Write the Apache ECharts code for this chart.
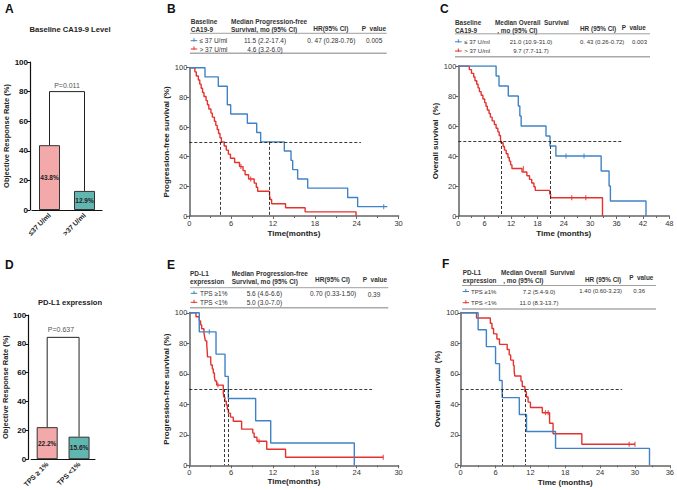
<!DOCTYPE html>
<html><head><meta charset="utf-8">
<script src="https://cdn.jsdelivr.net/npm/echarts@6/dist/echarts.min.js"></script>
<style>html,body{margin:0;padding:0;background:#fff}#c{width:677px;height:490px}</style>
</head><body><div id="c"></div>
<script>
const FONT = '"Liberation Sans", Arial, Helvetica, sans-serif';
const BLUE = '#3f83c6', RED = '#e4332f';

// ---- Panel A: ORR by baseline CA19-9
const catsA = ['≤37 U/ml', '>37 U/ml'];
const orrA = [43.8, 12.9];
const bracketA = 80;
const pTextA = 'P=0.011';
const titleA = 'Baseline CA19-9 Level';
// ---- Panel D: ORR by PD-L1
const catsD = ['TPS ≥ 1%', 'TPS <1%'];
const orrD = [22.2, 15.6];
const bracketD = 84.5;
const pTextD = 'P=0.637';
const titleD = 'PD-L1 expression';
const barColors = ['#f3a8aa', '#62b6b0'];

// ---- Panel B: PFS by CA19-9
const pfsCaLow = [[0,100],[2.25,93.8],[4.16,87.5],[5.45,75.0],[5.93,68.8],[8.32,62.5],[9.66,56.3],[10.23,50.0],[13.62,43.8],[14.58,37.5],[14.82,31.3],[15.53,25.0],[16.97,18.8],[22.7,12.5],[24.13,6.3],[28.38,6.3]];
const pfsCaLowCens = [[27.86,6.3]];
const pfsCaHigh = [[0,100],[0.8,97.2],[1.0,94.4],[1.3,91.7],[1.5,88.9],[1.7,86.1],[1.9,83.3],[2.1,80.6],[2.4,77.8],[2.6,75.0],[2.8,72.2],[3.1,69.4],[3.3,66.7],[3.6,63.9],[3.8,61.1],[4.0,58.3],[4.2,55.6],[4.4,52.8],[4.6,50.0],[5.0,47.2],[5.3,44.4],[5.6,41.7],[5.9,38.9],[6.5,36.1],[7.2,33.3],[7.7,30.6],[8.0,27.8],[8.5,25.0],[9.3,22.2],[9.6,19.4],[9.8,16.7],[11.5,13.9],[11.6,11.1],[11.8,8.3],[13.8,5.6],[16.6,2.8],[23.9,0]];
const pfsCaHighCens = [[7.4,33.3],[8.8,25.0]];
const medB = [4.5, 11.47], refEndB = 24.6;

// ---- Panel C: OS by CA19-9
const osCaLow = [[0,100],[8.6,93.3],[9.26,86.7],[11.37,80.0],[13.65,73.3],[14.0,66.7],[14.3,60.0],[19.95,53.3],[20.86,46.7],[22.2,40.0],[32.5,30.0],[34.3,20.0],[34.6,10.0],[42.7,0]];
const osCaLowCens = [[24.5,40.0],[28.6,40.0]];
const osCaHigh = [[0,100],[2.5,97.6],[3.0,95.1],[3.5,92.7],[3.8,90.2],[4.2,87.8],[4.5,85.4],[4.8,82.9],[5.2,80.5],[5.6,78.0],[6.0,75.6],[6.3,73.2],[6.6,70.7],[7.0,68.3],[7.3,65.9],[7.7,63.4],[8.2,61.0],[8.6,58.5],[9.0,56.1],[9.3,53.7],[9.6,51.2],[9.7,48.8],[10.2,46.3],[10.5,43.9],[10.9,41.5],[11.3,39.0],[11.6,36.6],[11.9,34.1],[12.2,31.7],[14.5,29.3],[15.6,26.8],[16.2,24.4],[16.7,22.0],[17.2,19.5],[17.5,17.1],[20.8,14.6],[21.0,12.2],[32.8,0]];
const osCaHighCens = [[14.8,31.7],[25.8,12.2],[29.0,12.2]];
const medC = [9.7, 20.9], refEndC = 37.5;

// ---- Panel E: PFS by PD-L1
const pfsTpsHigh = [[0,100],[1.43,87.5],[3.83,72.9],[5.12,58.3],[5.59,43.8],[9.51,29.2],[11.67,14.6],[23.65,0]];
const pfsTpsHighCens = [[2.87,87.5]];
const pfsTpsLow = [[0,100],[0.96,97.4],[1.43,94.7],[1.62,92.1],[1.77,89.5],[2.1,86.8],[2.2,84.2],[2.3,81.6],[2.5,78.9],[2.55,76.3],[2.58,73.7],[2.6,71.1],[3.07,68.4],[3.1,65.8],[3.3,63.2],[3.44,60.5],[3.6,57.9],[3.7,55.3],[3.92,52.6],[4.87,47.4],[4.95,44.7],[5.1,42.1],[5.3,39.5],[5.45,36.8],[5.6,34.2],[5.9,31.6],[6.3,28.9],[7.5,23.7],[9.1,21.1],[9.3,18.4],[9.7,15.8],[11.1,10.5],[13.8,5.3],[27.8,5.3]];
const pfsTpsLowCens = [[4.1,52.6],[10.0,15.8],[27.8,5.3]];
const medE = [4.97, 5.59], refEndE = 26.2;

// ---- Panel F: OS by PD-L1
const osTpsHigh = [[0,100],[3.0,88.9],[4.42,77.8],[6.0,66.7],[6.68,55.6],[7.14,44.4],[10.09,33.3],[11.33,22.2],[16.33,11.1],[32.5,0]];
const osTpsLow = [[0,100],[2.72,96.6],[5.1,93.1],[5.38,89.7],[5.66,86.2],[6.23,82.8],[6.68,79.3],[8.0,75.9],[8.35,72.4],[8.6,69.0],[9.07,65.5],[9.2,62.1],[9.3,58.6],[10.37,55.2],[10.6,51.7],[11.05,48.3],[11.3,44.8],[11.6,41.4],[12.0,37.9],[14.05,34.5],[15.3,27.6],[15.9,20.7],[20.85,13.8],[30.0,13.8]];
const osTpsLowCens = [[14.6,34.5],[15.06,34.5],[29.0,13.8],[30.0,13.8]];
const medF = [7.14, 11.05], refEndF = 27.8;

// ---- Tables
const tblB = { head: [['Baseline','CA19-9'], ['Median Progression-free','Survival, mo (95% CI)'], ['HR(95% CI)'], ['P  value']],
  rows: [['≤ 37 U/ml','11.5 (2.2-17.4)','0. 47 (0.28-0.76)','0.005'], ['> 37 U/ml','4.6 (3.2-6.0)','','']] };
const tblC = { head: [['Baseline','CA19-9'], ['Median Overall  Survival',', mo (95% CI)'], ['HR (95% CI)'], ['P  value']],
  rows: [['≤ 37 U/ml','21.0 (10.9-31.0)','0. 43 (0.26-0.72)','0.003'], ['> 37 U/ml','9.7 (7.7-11.7)','','']] };
const tblE = { head: [['PD-L1','expression'], ['Median Progression-free','Survival, mo (95% CI)'], ['HR(95% CI)'], ['P  value']],
  rows: [['TPS ≥1%','5.6 (4.6-6.6)','0.70 (0.33-1.50)','0.39'], ['TPS <1%','5.0 (3.0-7.0)','','']] };
const tblF = { head: [['PD-L1','expression'], ['Median Overall  Survival',', mo (95% CI)'], ['HR (95% CI)'], ['P  value']],
  rows: [['TPS ≥1%','7.2 (5.4-9.0)','1.40 (0.60-3.23)','0.36'], ['TPS <1%','11.0 (8.3-13.7)','','']] };

// ================= build =================
const chart = echarts.init(document.getElementById('c'), null, {renderer: 'svg', width: 677, height: 490});

const grids = [
  {left: 32, top: 62, width: 70, height: 148},        // A
  {left: 189.3, top: 67.7, width: 209.3, height: 148.3}, // B
  {left: 458.3, top: 66, width: 211, height: 150},     // C
  {left: 27, top: 315, width: 68, height: 146.7},      // D
  {left: 189.3, top: 312.8, width: 209.3, height: 152.5}, // E
  {left: 460.7, top: 312.8, width: 211.6, height: 152.5}  // F
];

function barX(gi, cats) {
  return {gridIndex: gi, type: 'category', data: cats,
    axisLine: {lineStyle: {color: '#111', width: 1.2}}, axisTick: {show: false},
    axisLabel: {rotate: 45, fontSize: 7, fontWeight: 'bold', color: '#222', margin: 4, fontFamily: FONT, interval: 0}};
}
function barY(gi, off, gap) {
  return {gridIndex: gi, type: 'value', min: 0, max: 100, interval: 20, offset: off,
    axisLine: {show: true, lineStyle: {color: '#111', width: 1.2}},
    axisTick: {show: true, length: 3, lineStyle: {color: '#111'}},
    splitLine: {show: false},
    axisLabel: {fontSize: 8, fontWeight: 'bold', color: '#111', margin: 2, fontFamily: FONT},
    name: 'Objective Response Rate (%)', nameLocation: 'middle', nameGap: gap,
    nameTextStyle: {fontSize: 7.5, fontWeight: 'bold', color: '#222', fontFamily: FONT}};
}
function kmX(gi, max, name, gap) {
  return {gridIndex: gi, type: 'value', min: 0, max: max, interval: 6,
    axisLine: {show: true, onZero: false, lineStyle: {color: '#666', width: 1.5}},
    axisTick: {show: true, length: 3, lineStyle: {color: '#666'}},
    minorTick: {show: true, splitNumber: 2, length: 2, lineStyle: {color: '#666'}},
    splitLine: {show: false}, minorSplitLine: {show: false},
    axisLabel: {fontSize: 7.5, color: '#333', margin: 3, fontFamily: FONT},
    name: name, nameLocation: 'middle', nameGap: gap,
    nameTextStyle: {fontSize: 8, fontWeight: 'bold', color: '#222', fontFamily: FONT}};
}
function kmY(gi, name, gap) {
  return {gridIndex: gi, type: 'value', min: 0, max: 100, interval: 20,
    axisLine: {show: true, onZero: false, lineStyle: {color: '#888', width: 2}},
    axisTick: {show: true, length: 3, lineStyle: {color: '#666'}},
    splitLine: {show: false},
    axisLabel: {fontSize: 7.5, color: '#333', margin: 2, fontFamily: FONT},
    name: name, nameLocation: 'middle', nameGap: gap,
    nameTextStyle: {fontSize: 8, fontWeight: 'bold', color: '#222', fontFamily: FONT}};
}

const xAxes = [barX(0, catsA), kmX(1, 30, 'Time(months)', 13), kmX(2, 48, 'Time (months)', 13),
               barX(3, catsD), kmX(4, 30, 'Time(months)', 12), kmX(5, 36, 'Time (months)', 13)];
const yAxes = [barY(0, 2, 18), kmY(1, 'Progression-free survival (%)', 15), kmY(2, 'Overall survival  (%)', 17),
               barY(3, 3, 12), kmY(4, 'Progression-free survival (%)', 15), kmY(5, 'Overall survival  (%)', 19)];

const series = [];
function addBars(gi, vals, bracketY) {
  series.push({type: 'bar', xAxisIndex: gi, yAxisIndex: gi, barWidth: 21,
    data: vals.map((v, i) => ({value: v, itemStyle: {color: barColors[i]}})),
    itemStyle: {borderColor: '#333', borderWidth: 1},
    label: {show: true, position: 'inside', formatter: '{c}%', fontSize: 6.5, fontWeight: 'bold', color: '#222', fontFamily: FONT}});
  series.push({type: 'line', xAxisIndex: gi, yAxisIndex: gi, symbol: 'none', z: 5,
    data: [[0, vals[0]], [0, bracketY], [1, bracketY], [1, vals[1]]],
    lineStyle: {color: '#222', width: 1}});
}
addBars(0, orrA, bracketA);
addBars(3, orrD, bracketD);

function addKM(gi, blue, blueCens, red, redCens, med, refEnd) {
  const dash = [[{coord: [0, 50]}, {coord: [refEnd, 50]}]].concat(
    med.map(m => [{coord: [m, 50]}, {coord: [m, 0]}]));
  series.push({type: 'line', xAxisIndex: gi, yAxisIndex: gi, data: red, step: 'end', symbol: 'none',
    lineStyle: {color: RED, width: 1.4}, z: 3});
  series.push({type: 'line', xAxisIndex: gi, yAxisIndex: gi, data: blue, step: 'end', symbol: 'none',
    lineStyle: {color: BLUE, width: 1.4}, z: 4,
    markLine: {symbol: 'none', silent: true, label: {show: false}, animation: false,
      lineStyle: {type: [3, 2], color: '#222', width: 0.9}, data: dash}});
  if (blueCens.length) series.push({type: 'scatter', xAxisIndex: gi, yAxisIndex: gi, data: blueCens,
    symbol: 'rect', symbolSize: [1.2, 5], itemStyle: {color: BLUE}, z: 5});
  if (redCens.length) series.push({type: 'scatter', xAxisIndex: gi, yAxisIndex: gi, data: redCens,
    symbol: 'rect', symbolSize: [1.2, 5], itemStyle: {color: RED}, z: 5});
}
addKM(1, pfsCaLow, pfsCaLowCens, pfsCaHigh, pfsCaHighCens, medB, refEndB);
addKM(2, osCaLow, osCaLowCens, osCaHigh, osCaHighCens, medC, refEndC);
addKM(4, pfsTpsHigh, pfsTpsHighCens, pfsTpsLow, pfsTpsLowCens, medE, refEndE);
addKM(5, osTpsHigh, [], osTpsLow, osTpsLowCens, medF, refEndF);

// ---- graphic texts
const G = [];
function T(x, y, text, o) {
  o = o || {};
  G.push({type: 'text', x: x, y: y, silent: true, style: {text: text, fontFamily: FONT,
    fontSize: o.size || 6.5, fontWeight: o.bold ? 'bold' : 'normal', fill: o.color || '#333',
    align: o.align || 'left', verticalAlign: 'middle'}});
}
function L(x1, y1, x2, y2, color, w) {
  G.push({type: 'line', silent: true, shape: {x1: x1, y1: y1, x2: x2, y2: y2}, style: {stroke: color, lineWidth: w}});
}
// panel letters
[['A', 5, 8.5], ['B', 167, 8.5], ['C', 440, 8.5], ['D', 5, 265], ['E', 167, 265], ['F', 442, 263.5]]
  .forEach(a => T(a[1], a[2], a[0], {size: 12, bold: true, color: '#111'}));
// bar titles and p values
T(70, 29, titleA, {size: 7.6, bold: true, color: '#222', align: 'center'});
T(70, 302, titleD, {size: 7.6, bold: true, color: '#222', align: 'center'});
T(67, 85, pTextA, {size: 7, color: '#555', align: 'center'});
T(61, 329.5, pTextD, {size: 7, color: '#555', align: 'center'});

function table(t, L0) {
  const hs = L0.hsz || 6.5, rs = L0.rsz || 6.5;
  t.head.forEach((h, i) => {
    if (h.length === 2) {
      T(L0.hx[i], L0.hy[0], h[0], {bold: true, size: hs});
      T(L0.hx2 && L0.hx2[i] != null ? L0.hx2[i] : L0.hx[i], L0.hy[1], h[1], {bold: true, size: hs});
    } else {
      T(L0.hx[i], L0.hs[i], h[0], {bold: true, size: hs});
    }
  });
  L(L0.lx[0], L0.ly[0], L0.lx[1], L0.ly[0], '#888', 0.8);
  L(L0.lx[0], L0.ly[1], L0.lx[1], L0.ly[1], '#aaa', 1.6);
  t.rows.forEach((r, j) => {
    const y = L0.ry[j], c = j === 0 ? BLUE : RED;
    L(L0.mx[0], y, L0.mx[1], y, c, 1);
    L((L0.mx[0] + L0.mx[1]) / 2, y - 2.5, (L0.mx[0] + L0.mx[1]) / 2, y + 0.8, c, 1);
    T(L0.lab, y, r[0], {size: rs});
    T(L0.med, y, r[1], {align: 'center', size: rs});
    if (r[2]) T(L0.hr, L0.hry, r[2], {size: rs});
    if (r[3]) T(L0.p, L0.py, r[3], {size: rs});
  });
}
table(tblB, {hx: [190.7, 231, 313.3, 361.7], hy: [21, 29], hs: [0, 0, 28.5, 28.3],
  lx: [190, 386.7], ly: [33.3, 53.3], ry: [40.7, 49], mx: [190.7, 197.3], lab: 199.5,
  med: 265, hr: 307.3, hry: 40.7, p: 366, py: 40.7});
table(tblC, {hx: [455, 495, 580, 621.7], hx2: [455, 497.3], hy: [22.5, 30.5], hs: [0, 0, 28.3, 27.7],
  hsz: 6.4, rsz: 6,
  lx: [455, 650], ly: [33.8, 56.7], ry: [41.8, 51], mx: [455, 461.7], lab: 464.3,
  med: 531, hr: 580, hry: 41.8, p: 632, py: 41.8});
table(tblE, {hx: [190, 231.7, 315, 362.7], hy: [273.3, 281.3], hs: [0, 0, 279, 279],
  lx: [190, 388.3], ly: [287.7, 307.7], ry: [293.3, 302.3], mx: [190.7, 197.3], lab: 200,
  med: 264.4, hr: 310, hry: 293.3, p: 367.7, py: 294.7});
table(tblF, {hx: [462.7, 501, 585, 629.3], hx2: [462.7, 503.3], hy: [272.7, 280.7], hs: [0, 0, 279, 277.7],
  hsz: 6.4, rsz: 6,
  lx: [462, 656], ly: [285.5, 309], ry: [291.5, 302.7], mx: [462.7, 469], lab: 471,
  med: 539, hr: 579.3, hry: 290.5, p: 633.3, py: 290.5});

chart.setOption({
  animation: false,
  backgroundColor: '#fff',
  textStyle: {fontFamily: FONT},
  grid: grids,
  xAxis: xAxes,
  yAxis: yAxes,
  series: series,
  graphic: {elements: G}
});
</script></body></html>
